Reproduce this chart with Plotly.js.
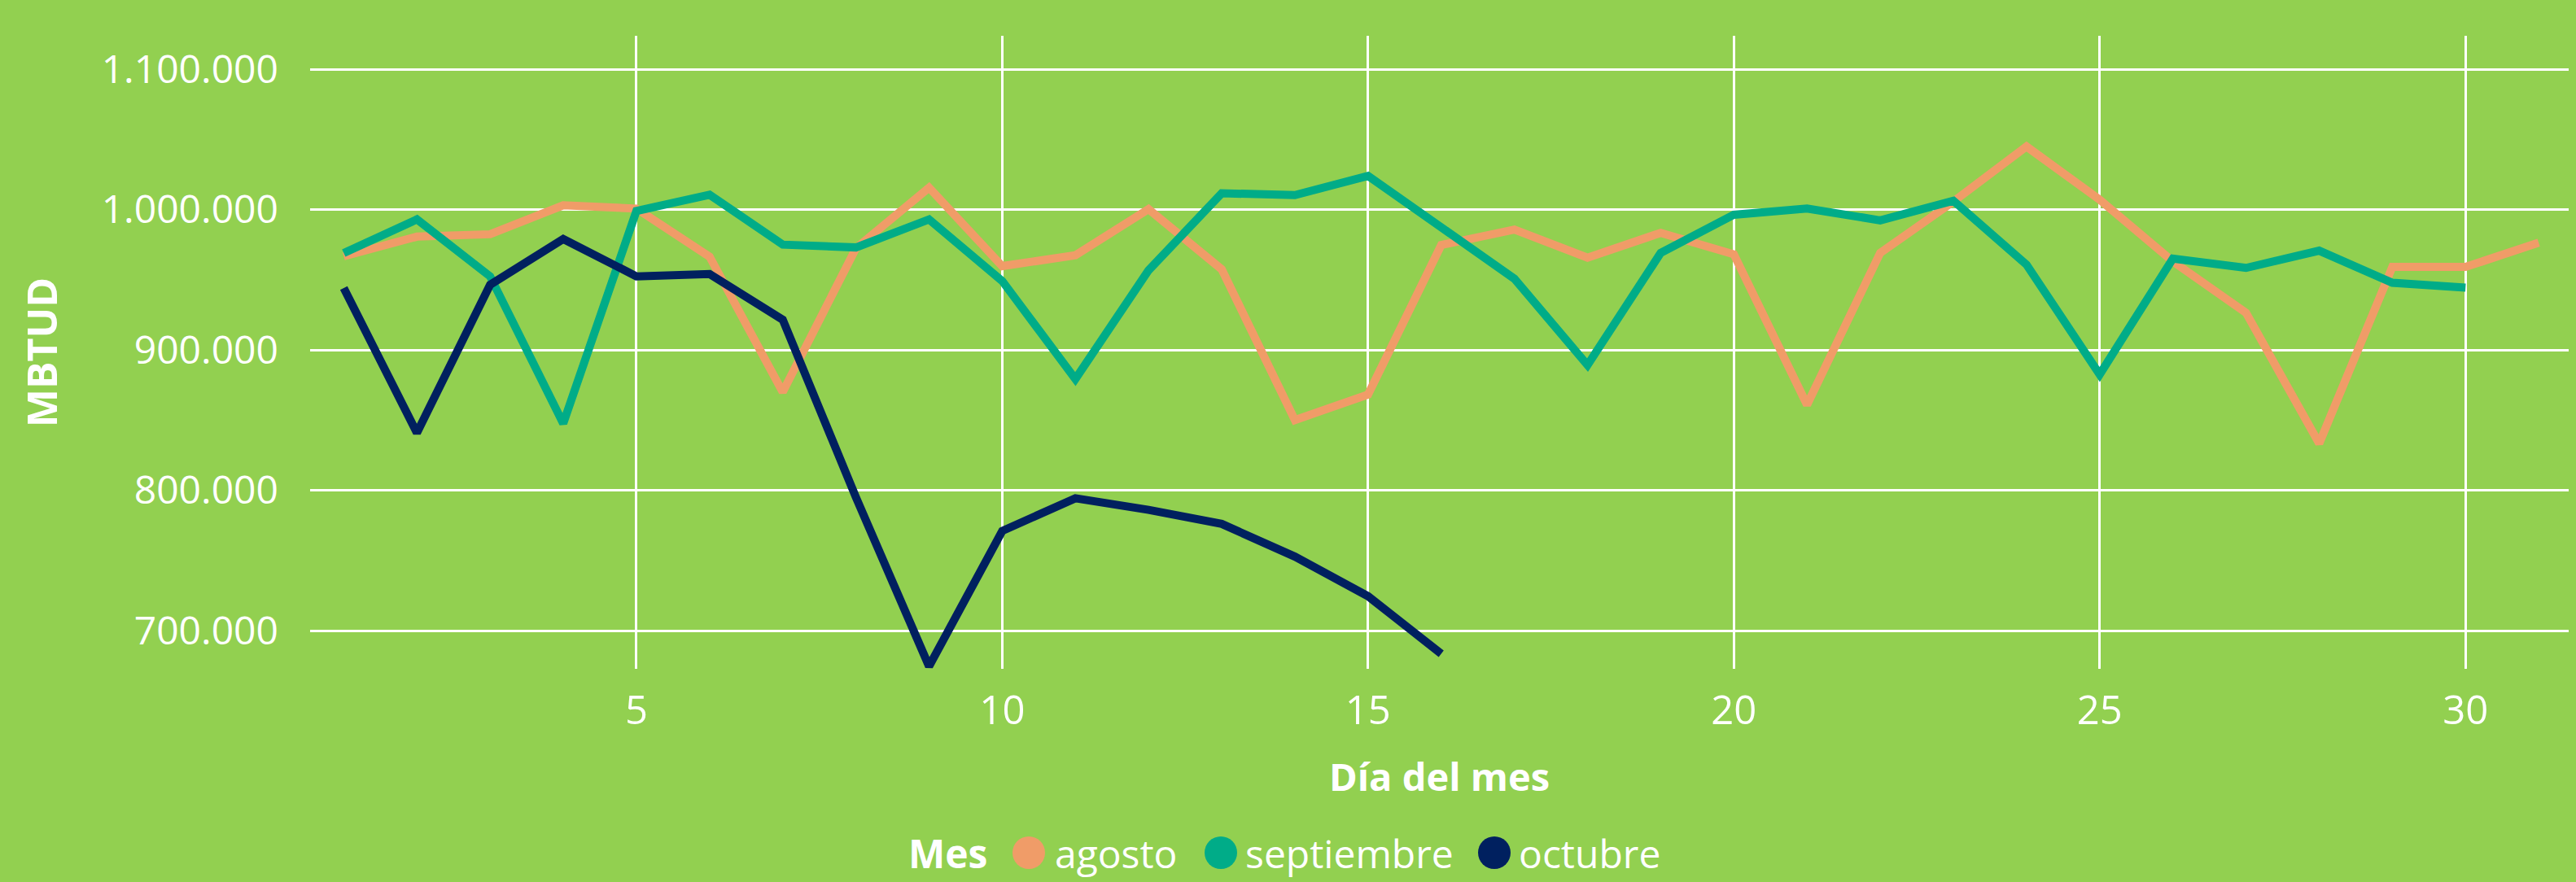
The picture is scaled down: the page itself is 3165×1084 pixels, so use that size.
<!DOCTYPE html>
<html>
<head>
<meta charset="utf-8">
<script src="https://cdn.plot.ly/plotly-3.0.1.min.js"></script>
<style>
  html, body { margin: 0; padding: 0; background: #92D050; }
  #chart { width: 3165px; height: 1084px; }
</style>
</head>
<body>
<div id="chart"></div>
<script>
// ---- data ----
const seriesNames = ['agosto', 'septiembre', 'octubre'];
const seriesColors = ['#F09C68', '#00AC88', '#00205F'];
const legendTitle = 'Mes';
const xTitle = 'Día del mes';
const yTitle = 'MBTUD';

const diasAgosto = [1,2,3,4,5,6,7,8,9,10,11,12,13,14,15,16,17,18,19,20,21,22,23,24,25,26,27,28,29,30,31];
const agosto = [966700, 980700, 982400, 1003000, 1000700, 966400, 870000, 972400, 1015600, 959700,
                967400, 1000300, 957400, 850000, 868200, 974700, 985700, 965700, 983400, 968100,
                860900, 969100, 1005700, 1044900, 1007000, 963000, 926500, 833300, 959100, 959100, 976400];

const diasSeptiembre = [1,2,3,4,5,6,7,8,9,10,11,12,13,14,15,16,17,18,19,20,21,22,23,24,25,26,27,28,29,30];
const septiembre = [969000, 993000, 952400, 847600, 999000, 1010600, 975000, 973000, 993000, 949100,
                    879200, 956700, 1011600, 1010300, 1024000, 987000, 950700, 889200, 969100, 996300,
                    1000700, 992300, 1006300, 960700, 882500, 965000, 958400, 970700, 947800, 944400];

const diasOctubre = [1,2,3,4,5,6,7,8,9,10,11,12,13,14,15,16];
const octubre = [944100, 840900, 946400, 979000, 952400, 954100, 921500, 795000, 674500, 771000,
                 794300, 786000, 776000, 752700, 724500, 683500];

const xs = [diasAgosto, diasSeptiembre, diasOctubre];
const ys = [agosto, septiembre, octubre];

// ---- figure ----
const FONT = '"Segoe UI", "Open Sans", sans-serif';
const W = 3165, H = 1084;
const M = {l: 381, r: 9, t: 44, b: 262};

const traces = seriesNames.map((name, i) => ({
  type: 'scatter',
  mode: 'lines',
  name: name,
  x: xs[i],
  y: ys[i],
  line: {color: seriesColors[i], width: 10, shape: 'linear'},
  showlegend: false,
  hoverinfo: 'x+y+name'
}));

// custom legend: title + circle + label, centered on figure
const plotW = W - M.l - M.r, plotH = H - M.t - M.b;
const legendY = (H - M.b - 1048) / plotH;   // paper y of legend row
const px2paperX = px => (px - M.l) / plotW;
const legendTitleX = 1114;
const circleCX = [1264, 1500, 1836];
const labelX = [1294, 1528, 1864];

const annotations = [{
  xref: 'paper', yref: 'paper', x: px2paperX(legendTitleX), y: legendY,
  xanchor: 'left', yanchor: 'middle', showarrow: false,
  text: '<b>' + legendTitle + '</b>',
  font: {family: FONT, size: 48, color: '#FFFFFF'}
}];
const shapes = [];
seriesNames.forEach((name, i) => {
  shapes.push({
    type: 'circle', xref: 'paper', yref: 'paper',
    xsizemode: 'pixel', ysizemode: 'pixel',
    xanchor: px2paperX(circleCX[i]), yanchor: legendY,
    x0: -20, x1: 20, y0: -20, y1: 20,
    fillcolor: seriesColors[i], line: {width: 0}
  });
  annotations.push({
    xref: 'paper', yref: 'paper', x: px2paperX(labelX[i]), y: legendY,
    xanchor: 'left', yanchor: 'middle', showarrow: false,
    text: name,
    font: {family: FONT, size: 48, color: '#FFFFFF'}
  });
});

const layout = {
  width: W, height: H,
  margin: M,
  paper_bgcolor: '#92D050',
  plot_bgcolor: '#92D050',
  separators: ',.',
  showlegend: false,
  font: {family: FONT, color: '#FFFFFF', size: 48},
  xaxis: {
    range: [0.54, 31.41],
    tick0: 0, dtick: 5,
    showgrid: true, gridcolor: '#FFFFFF', gridwidth: 3,
    zeroline: false, showline: false,
    ticks: '', ticklabelstandoff: 18,
    tickfont: {family: FONT, size: 49, color: '#FFFFFF'},
    title: {text: '<b>' + xTitle + '</b>', standoff: 36,
            font: {family: FONT, size: 47, color: '#FFFFFF'}}
  },
  yaxis: {
    range: [672750, 1123800],
    tick0: 0, dtick: 100000,
    tickformat: ',d',
    showgrid: true, gridcolor: '#FFFFFF', gridwidth: 3,
    zeroline: false, showline: false,
    ticks: '', ticklabelstandoff: 38,
    tickfont: {family: FONT, size: 48, color: '#FFFFFF'},
    title: {text: '<b>' + yTitle + '</b>', standoff: 38,
            font: {family: FONT, size: 50, color: '#FFFFFF'}}
  },
  annotations: annotations,
  shapes: shapes
};

Plotly.newPlot('chart', traces, layout, {displayModeBar: false, staticPlot: true});
</script>
</body>
</html>
